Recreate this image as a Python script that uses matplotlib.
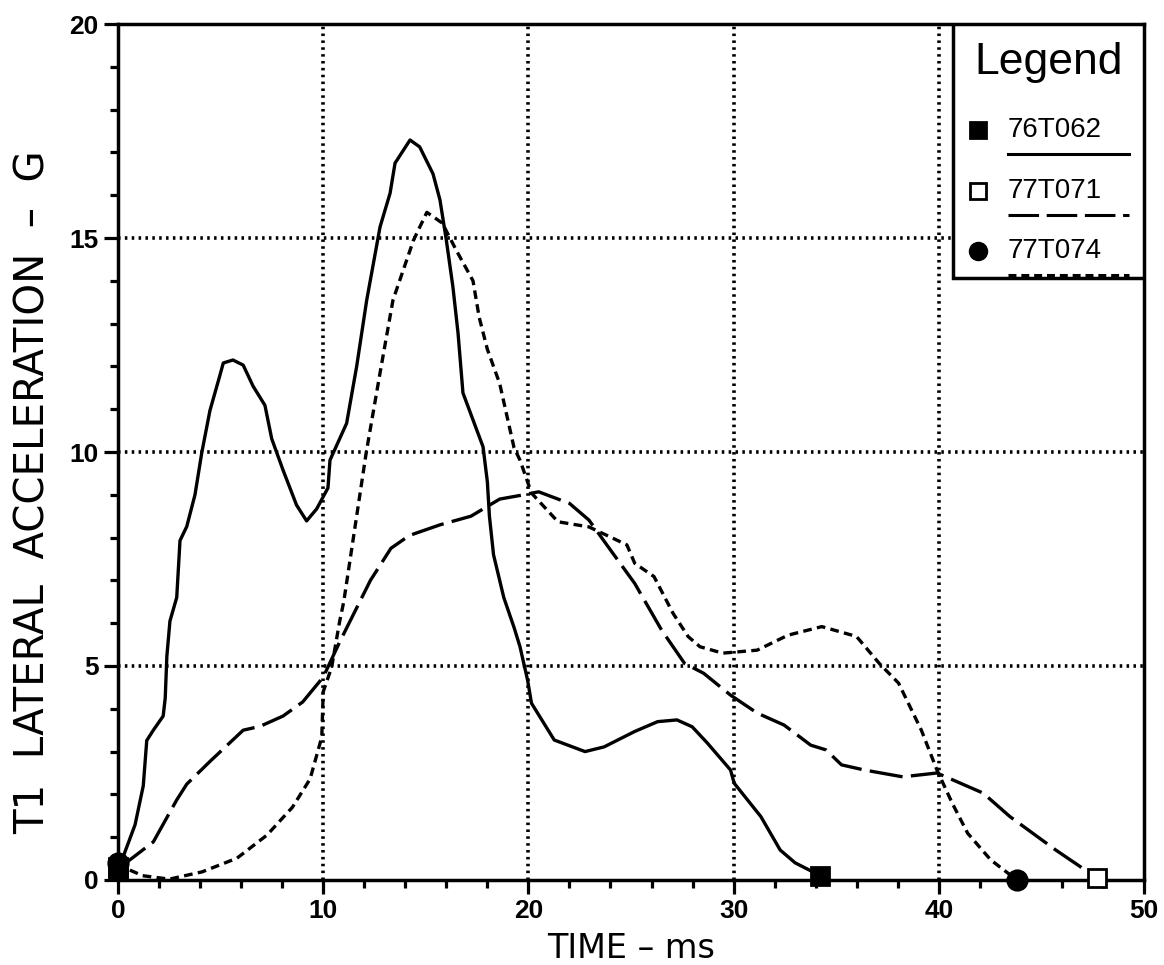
import numpy as np
import matplotlib
matplotlib.use("Agg")
import matplotlib.pyplot as plt
from matplotlib.ticker import MultipleLocator

plt.rcParams["font.family"] = ["Liberation Sans", "DejaVu Sans"]

# Data
t_76T062 = [0.0, 0.1, 0.83, 1.23, 1.4, 1.72, 2.2, 2.3, 2.38, 2.53, 2.86, 3.02, 3.35, 3.75, 4.08,
            4.48, 4.97, 5.13, 5.6, 6.1, 6.58, 7.16, 7.49, 8.04, 8.7, 9.19, 9.68, 10.23, 10.33,
            11.14, 11.63, 12.12, 12.77, 13.26, 13.5, 14.23, 14.7, 15.35, 15.69, 16.0, 16.32,
            16.57, 16.81, 17.3, 17.79, 18.0, 18.1, 18.3, 18.8, 19.3, 19.59, 19.96, 20.15,
            21.26, 22.76, 23.69, 25.18, 26.3, 27.24, 27.98, 28.72, 29.85, 30.03, 31.33, 32.27,
            33.0, 34.23]
g_76T062 = [0.2, 0.35, 1.29, 2.2, 3.26, 3.5, 3.83, 4.25, 5.23, 6.05, 6.6, 7.93, 8.26, 9.0, 9.98,
            10.97, 11.8, 12.08, 12.15, 12.03, 11.54, 11.09, 10.31, 9.58, 8.76, 8.39, 8.67, 9.16, 9.81,
            10.67, 12.0, 13.55, 15.26, 16.05, 16.75, 17.29, 17.13, 16.5, 15.89, 14.95, 13.86,
            12.78, 11.38, 10.75, 10.12, 9.3, 8.5, 7.6, 6.6, 5.9, 5.45, 4.67, 4.13,
            3.27, 3.0, 3.11, 3.47, 3.7, 3.74, 3.58, 3.2, 2.57, 2.26, 1.48, 0.7,
            0.4, 0.1]

t_77T071 = [0.0, 0.25, 1.72, 2.86, 3.35, 4.48, 6.1, 6.92, 8.04, 9.0, 10.0, 10.8, 12.3, 13.3, 14.2,
            15.7, 17.2, 18.6, 19.77, 20.5, 22.0, 22.95, 23.88, 25.18, 26.49, 27.61, 28.54, 29.85,
            31.15, 32.46, 33.76, 34.5, 35.26, 36.37, 38.24, 39.91, 42.16, 43.47, 45.7, 47.7]
g_77T071 = [0.3, 0.35, 0.89, 1.87, 2.24, 2.77, 3.5, 3.59, 3.83, 4.16, 4.74, 5.56, 7.0, 7.75, 8.05,
            8.3, 8.5, 8.9, 9.0, 9.07, 8.8, 8.41, 7.79, 6.93, 5.84, 5.06, 4.83, 4.32,
            3.9, 3.62, 3.15, 3.04, 2.69, 2.57, 2.41, 2.5, 2.03, 1.48, 0.7, 0.05]

t_77T074 = [0.0, 0.25, 1.2, 2.5, 4.1, 5.8, 7.26, 8.5, 9.36, 9.93, 10.0, 10.41, 10.8, 11.0, 12.1,
            12.77, 13.4, 14.4, 15.05, 15.8, 16.5, 17.3, 17.6, 18.0, 18.6, 19.3, 19.59, 20.15,
            21.44, 22.95, 24.8, 25.18, 26.12, 27.05, 27.78, 28.36, 29.47, 31.15, 32.65, 34.3,
            35.99, 37.1, 38.04, 39.15, 39.91, 40.66, 41.41, 42.53, 43.8]
g_77T074 = [0.4, 0.3, 0.1, 0.02, 0.19, 0.51, 1.05, 1.7, 2.36, 3.34, 4.4, 4.97, 6.04, 6.5, 10.0,
            11.85, 13.55, 14.95, 15.6, 15.35, 14.7, 14.0, 13.15, 12.4, 11.6, 10.1, 9.81, 9.04,
            8.37, 8.25, 7.83, 7.4, 7.09, 6.23, 5.69, 5.45, 5.3, 5.37, 5.72, 5.92,
            5.69, 5.06, 4.6, 3.5, 2.57, 1.79, 1.09, 0.47, 0.0]

labels = ["76T062", "77T071", "77T074"]
styles = [
    dict(ls="-", marker="s", mfc="black"),
    dict(ls=(0, (10, 2.5)), marker="s", mfc="white"),
    dict(ls=(0, (2.6, 1.6)), marker="o", mfc="black"),
]
series = [(t_76T062, g_76T062), (t_77T071, g_77T071), (t_77T074, g_77T074)]

fig = plt.figure(figsize=(11.64, 9.65), dpi=100)
ax = fig.add_axes([0.1014, 0.0881, 0.8814, 0.887])

# dotted grid under the curves
for gx in [10, 20, 30, 40]:
    ax.axvline(gx, color="black", lw=2.6, ls=(0, (0.7, 1.2)), zorder=1)
for gy in [5, 10, 15]:
    ax.axhline(gy, color="black", lw=2.6, ls=(0, (0.7, 1.2)), zorder=1)

order = [1, 2, 0]
for i in order:
    t, g = series[i]
    st = styles[i]
    ax.plot(t, g, color="black", lw=2.4, ls=st["ls"], zorder=3,
            solid_joinstyle="round", dash_joinstyle="round", dash_capstyle="butt")
    ax.plot([t[0], t[-1]], [g[0], g[-1]], ls="none", marker=st["marker"],
            ms=13 if st["marker"] == "s" else 14, mfc=st["mfc"], mec="black",
            mew=2, zorder=5, clip_on=False)

ax.set_xlim(0, 50)
ax.set_ylim(0, 20)
ax.xaxis.set_major_locator(MultipleLocator(10))
ax.xaxis.set_minor_locator(MultipleLocator(2))
ax.yaxis.set_major_locator(MultipleLocator(5))
ax.yaxis.set_minor_locator(MultipleLocator(1))
ax.tick_params(which="major", direction="out", length=10, width=2.3, labelsize=19, pad=4)
ax.tick_params(which="minor", direction="out", length=6, width=2.3)
for lab in ax.get_xticklabels() + ax.get_yticklabels():
    lab.set_fontweight("bold")
for sp in ax.spines.values():
    sp.set_linewidth(2.5)

ax.set_xlabel("TIME – ms", fontsize=24, labelpad=6, family="DejaVu Sans")
ax.set_ylabel("T1  LATERAL  ACCELERATION  –  G", fontsize=29, family="DejaVu Sans")
ax.yaxis.set_label_coords(-0.063, 0.453)

# legend box drawn by hand
x0, y0 = 0.814, 0.703
ax.add_patch(plt.Rectangle((x0, y0), 1 - x0, 1 - y0, transform=ax.transAxes,
                           facecolor="white", edgecolor="black", lw=2.5, zorder=10))
ax.text(0.907, 0.955, "Legend", transform=ax.transAxes, ha="center", va="center",
        fontsize=32, zorder=11)
ent_y = [0.876, 0.805, 0.735]
for i, lab in enumerate(labels):
    st = styles[i]
    ax.plot([0.838], [ent_y[i]], transform=ax.transAxes, marker=st["marker"],
            ms=12, mfc=st["mfc"], mec="black", mew=2, ls="none", zorder=11, clip_on=False)
    ax.text(0.867, ent_y[i], lab, transform=ax.transAxes, ha="left", va="center",
            fontsize=20, zorder=11)
    ax.plot([0.867, 0.985], [ent_y[i] - 0.028] * 2, transform=ax.transAxes,
            color="black", lw=2.2, ls=st["ls"], zorder=11, clip_on=False)

fig.savefig("out.png", dpi=100)
